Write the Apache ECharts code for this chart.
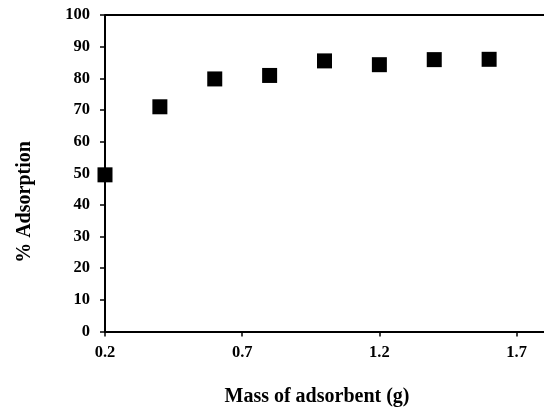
<!DOCTYPE html>
<html><head><meta charset="utf-8">
<script src="https://cdn.jsdelivr.net/npm/echarts@6/dist/echarts.min.js"></script>
<style>html,body{margin:0;padding:0;background:#fff}#c{width:544px;height:410px}</style>
</head><body><div id="c"></div>
<script>
const mass = [0.2, 0.4, 0.6, 0.8, 1.0, 1.2, 1.4, 1.6];
const adsorption = [49.5, 71.0, 79.8, 80.9, 85.5, 84.3, 85.9, 86.0];
const xTicks = [0.2, 0.7, 1.2, 1.7];
const yTicks = [0,10,20,30,40,50,60,70,80,90,100];
const xTitle = 'Mass of adsorbent (g)';
const yTitle = '% Adsorption';

const font = '"Liberation Serif", "Times New Roman", serif';
const chart = echarts.init(document.getElementById('c'), null, {renderer:'canvas'});
chart.setOption({
  animation:false,
  grid:{left:105, top:15, right:-3, bottom:78.5, containLabel:false},
  xAxis:{
    type:'value', min:0.2, max:1.8, interval:0.5,
    axisLine:{show:true, onZero:false, lineStyle:{color:'#000', width:2}},
    axisTick:{show:true, length:5, customValues:xTicks, lineStyle:{color:'#000', width:1.5}},
    axisLabel:{fontFamily:font, fontWeight:'bold', fontSize:16.5, color:'#000', margin:13,
      customValues:xTicks, formatter:v=>v.toFixed(1)},
    splitLine:{show:false}
  },
  yAxis:{
    type:'value', min:0, max:100, interval:10,
    axisLine:{show:true, lineStyle:{color:'#000', width:2}},
    axisTick:{show:true, length:5, lineStyle:{color:'#000', width:1.5}},
    axisLabel:{fontFamily:font, fontWeight:'bold', fontSize:16.5, color:'#000', margin:15},
    splitLine:{show:false}
  },
  series:[{
    type:'scatter', symbol:'rect', symbolSize:15,
    itemStyle:{color:'#000', opacity:1},
    data: mass.map((m,i)=>[m, adsorption[i]])
  }],
  graphic:[
    {type:'line', shape:{x1:105, y1:15, x2:544, y2:15}, style:{stroke:'#000', lineWidth:2}},
    {type:'text', x:317, y:397, style:{text:xTitle, fontFamily:font, fontWeight:'bold', fontSize:20, fill:'#000', align:'center', verticalAlign:'middle'}},
    {type:'text', x:25, y:202, rotation:Math.PI/2, style:{text:yTitle, fontFamily:font, fontWeight:'bold', fontSize:20, fill:'#000', align:'center', verticalAlign:'middle'}}
  ]
});
</script></body></html>
